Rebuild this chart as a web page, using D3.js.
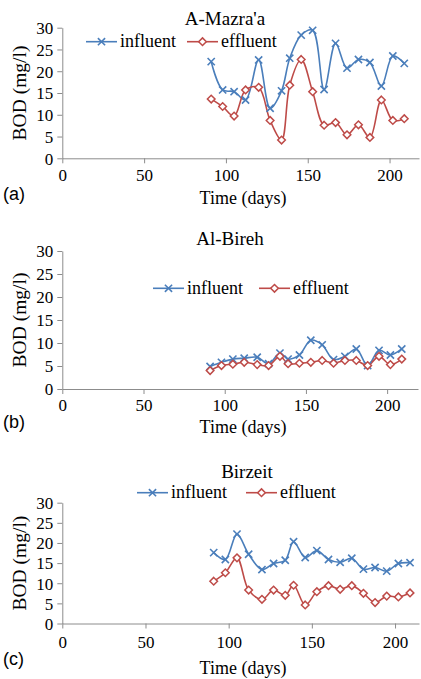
<!DOCTYPE html>
<html>
<head>
<meta charset="utf-8">
<script src="https://cdn.jsdelivr.net/npm/d3@7"></script>
<style>
  body { margin: 0; background: #fff; }
  svg { display: block; }
  svg text { font-family: "Liberation Serif", "Times New Roman", serif; }
  svg text.tag { font-family: "Liberation Sans", Arial, sans-serif; }
</style>
</head>
<body>
<svg id="chart" width="421" height="679"></svg>
<script>
// sampling days (same for all three plants)
const days = [91, 98, 105, 112, 120, 127, 134, 139, 146, 153, 160, 167, 174, 181, 188, 195, 202, 209];

// A-Mazra'a
const mazraaInfluent = [22.2, 15.7, 15.3, 13.4, 22.6, 11.5, 15.5, 23.0, 28.3, 29.4, 15.8, 26.4, 20.7, 22.7, 22.0, 16.6, 23.5, 21.8];
const mazraaEffluent = [13.6, 11.9, 9.7, 15.7, 16.3, 8.7, 4.2, 16.8, 22.7, 15.3, 7.6, 8.2, 5.4, 7.7, 4.8, 13.4, 8.7, 9.1];

// Al-Bireh
const birehInfluent = [4.9, 5.8, 6.5, 6.7, 6.9, 5.5, 7.8, 6.5, 7.4, 10.6, 9.6, 6.4, 7.1, 8.7, 5.1, 8.4, 7.4, 8.7];
const birehEffluent = [4.0, 5.1, 5.4, 5.8, 5.3, 5.1, 7.1, 5.5, 5.6, 5.8, 6.2, 5.6, 6.2, 6.2, 5.1, 7.1, 5.3, 6.5];

// Birzeit
const birzeitInfluent = [17.6, 15.9, 22.2, 17.2, 13.4, 14.9, 15.7, 20.3, 16.4, 18.1, 15.9, 15.2, 16.2, 13.5, 13.9, 13.0, 14.9, 15.1];
const birzeitEffluent = [10.5, 12.6, 16.3, 8.3, 6.0, 8.3, 7.0, 9.5, 4.6, 7.9, 9.4, 8.5, 9.4, 7.5, 5.2, 6.8, 6.6, 7.6];

const xTicks = [0, 50, 100, 150, 200];
const yTicks = [0, 5, 10, 15, 20, 25, 30];
const seriesNames = ["influent", "effluent"];

const blue = "#4a7ebb";
const red = "#be4b48";
const axisColor = "#8c8c8c";

// layout for each panel
const panels = [
  { title: "A-Mazra'a", tag: "(a)", inf: mazraaInfluent, eff: mazraaEffluent,
    left: 62.3, right: 419, top: 27.7, bottom: 158.3, xMax: 218,
    titleX: 225, titleY: 24.5, legY: 41.7, legInf: 86, legEff: 187,
    tickPad: 5.6, timeDy: 46, tagDy: 41.7 },
  { title: "Al-Bireh", tag: "(b)", inf: birehInfluent, eff: birehEffluent,
    left: 62.3, right: 418, top: 251, bottom: 389, xMax: 219,
    titleX: 230, titleY: 245, legY: 288.3, legInf: 153, legEff: 259,
    tickPad: 5.3, timeDy: 44, tagDy: 38.5 },
  { title: "Birzeit", tag: "(c)", inf: birzeitInfluent, eff: birzeitEffluent,
    left: 62.3, right: 419, top: 502.7, bottom: 623.5, xMax: 214.4,
    titleX: 247, titleY: 478, legY: 492.7, legInf: 137, legEff: 246,
    tickPad: 7.5, timeDy: 50, tagDy: 41.5 }
];

const svg = d3.select("#chart");

const crossPath = (s) => `M${-s},${-s}L${s},${s}M${-s},${s}L${s},${-s}`;
const diamondPath = (s) => `M0,${-s}L${s},0L0,${s}L${-s},0Z`;

function drawMarker(g, type, x, y) {
  if (type === "influent") {
    g.append("path").attr("d", crossPath(3.6))
      .attr("transform", `translate(${x},${y})`)
      .attr("stroke", blue).attr("stroke-width", 1.6).attr("fill", "none");
  } else {
    g.append("path").attr("d", diamondPath(3.8))
      .attr("transform", `translate(${x},${y})`)
      .attr("stroke", red).attr("stroke-width", 1.5).attr("fill", "#fff");
  }
}

panels.forEach((p) => {
  const g = svg.append("g");
  const x = d3.scaleLinear().domain([0, p.xMax]).range([p.left, p.right]);
  const y = d3.scaleLinear().domain([0, 30]).range([p.bottom, p.top]);

  // axes
  const xAxis = g.append("g").attr("transform", `translate(0,${p.bottom})`)
    .call(d3.axisBottom(x).tickValues(xTicks).tickSize(5).tickSizeOuter(0).tickPadding(p.tickPad));
  const yAxis = g.append("g").attr("transform", `translate(${p.left},0)`)
    .call(d3.axisLeft(y).tickValues(yTicks).tickSize(5).tickSizeOuter(0).tickPadding(4));
  [xAxis, yAxis].forEach((a) => {
    a.attr("font-family", null);
    a.select(".domain").attr("stroke", axisColor).attr("stroke-width", 1);
    a.selectAll(".tick line").attr("stroke", axisColor);
    a.selectAll("text").style("font-size", "17px").attr("fill", "#000");
  });
  yAxis.selectAll("text").attr("dy", "0.34em");
  xAxis.selectAll("text").attr("dy", "0.71em");

  // lines
  const line = d3.line()
    .x((d, i) => x(days[i]))
    .y((d) => y(d))
    .curve(d3.curveCatmullRom.alpha(0.5));

  const series = [
    { name: "influent", vals: p.inf, color: blue },
    { name: "effluent", vals: p.eff, color: red }
  ];
  series.forEach((s) => {
    g.append("path").datum(s.vals)
      .attr("d", line)
      .attr("fill", "none")
      .attr("stroke", s.color)
      .attr("stroke-width", 1.6);
  });
  series.forEach((s) => {
    s.vals.forEach((v, i) => drawMarker(g, s.name, x(days[i]), y(v)));
  });

  // title
  g.append("text").attr("x", p.titleX).attr("y", p.titleY)
    .attr("text-anchor", "middle")
    .style("font-size", "19px")
    .text(p.title);

  // legend
  [[seriesNames[0], p.legInf, blue], [seriesNames[1], p.legEff, red]].forEach(([name, lx, col]) => {
    g.append("line").attr("x1", lx).attr("x2", lx + 31)
      .attr("y1", p.legY).attr("y2", p.legY)
      .attr("stroke", col).attr("stroke-width", 1.6);
    drawMarker(g, name, lx + 15.5, p.legY);
    g.append("text").attr("x", lx + 34).attr("y", p.legY + 5.5)
      .style("font-size", "18px")
      .text(name);
  });

  // axis titles
  g.append("text")
    .attr("transform", `translate(${25.5},${(p.top + p.bottom) / 2}) rotate(-90)`)
    .attr("text-anchor", "middle")
    .style("font-size", "19.5px")
    .text("BOD (mg/l)");
  g.append("text").attr("x", 243).attr("y", p.bottom + p.timeDy)
    .attr("text-anchor", "middle")
    .style("font-size", "18px")
    .text("Time (days)");
  g.append("text").attr("class", "tag").attr("x", 3).attr("y", p.bottom + p.tagDy)
    .style("font-size", "18px")
    .text(p.tag);
});
</script>
</body>
</html>
